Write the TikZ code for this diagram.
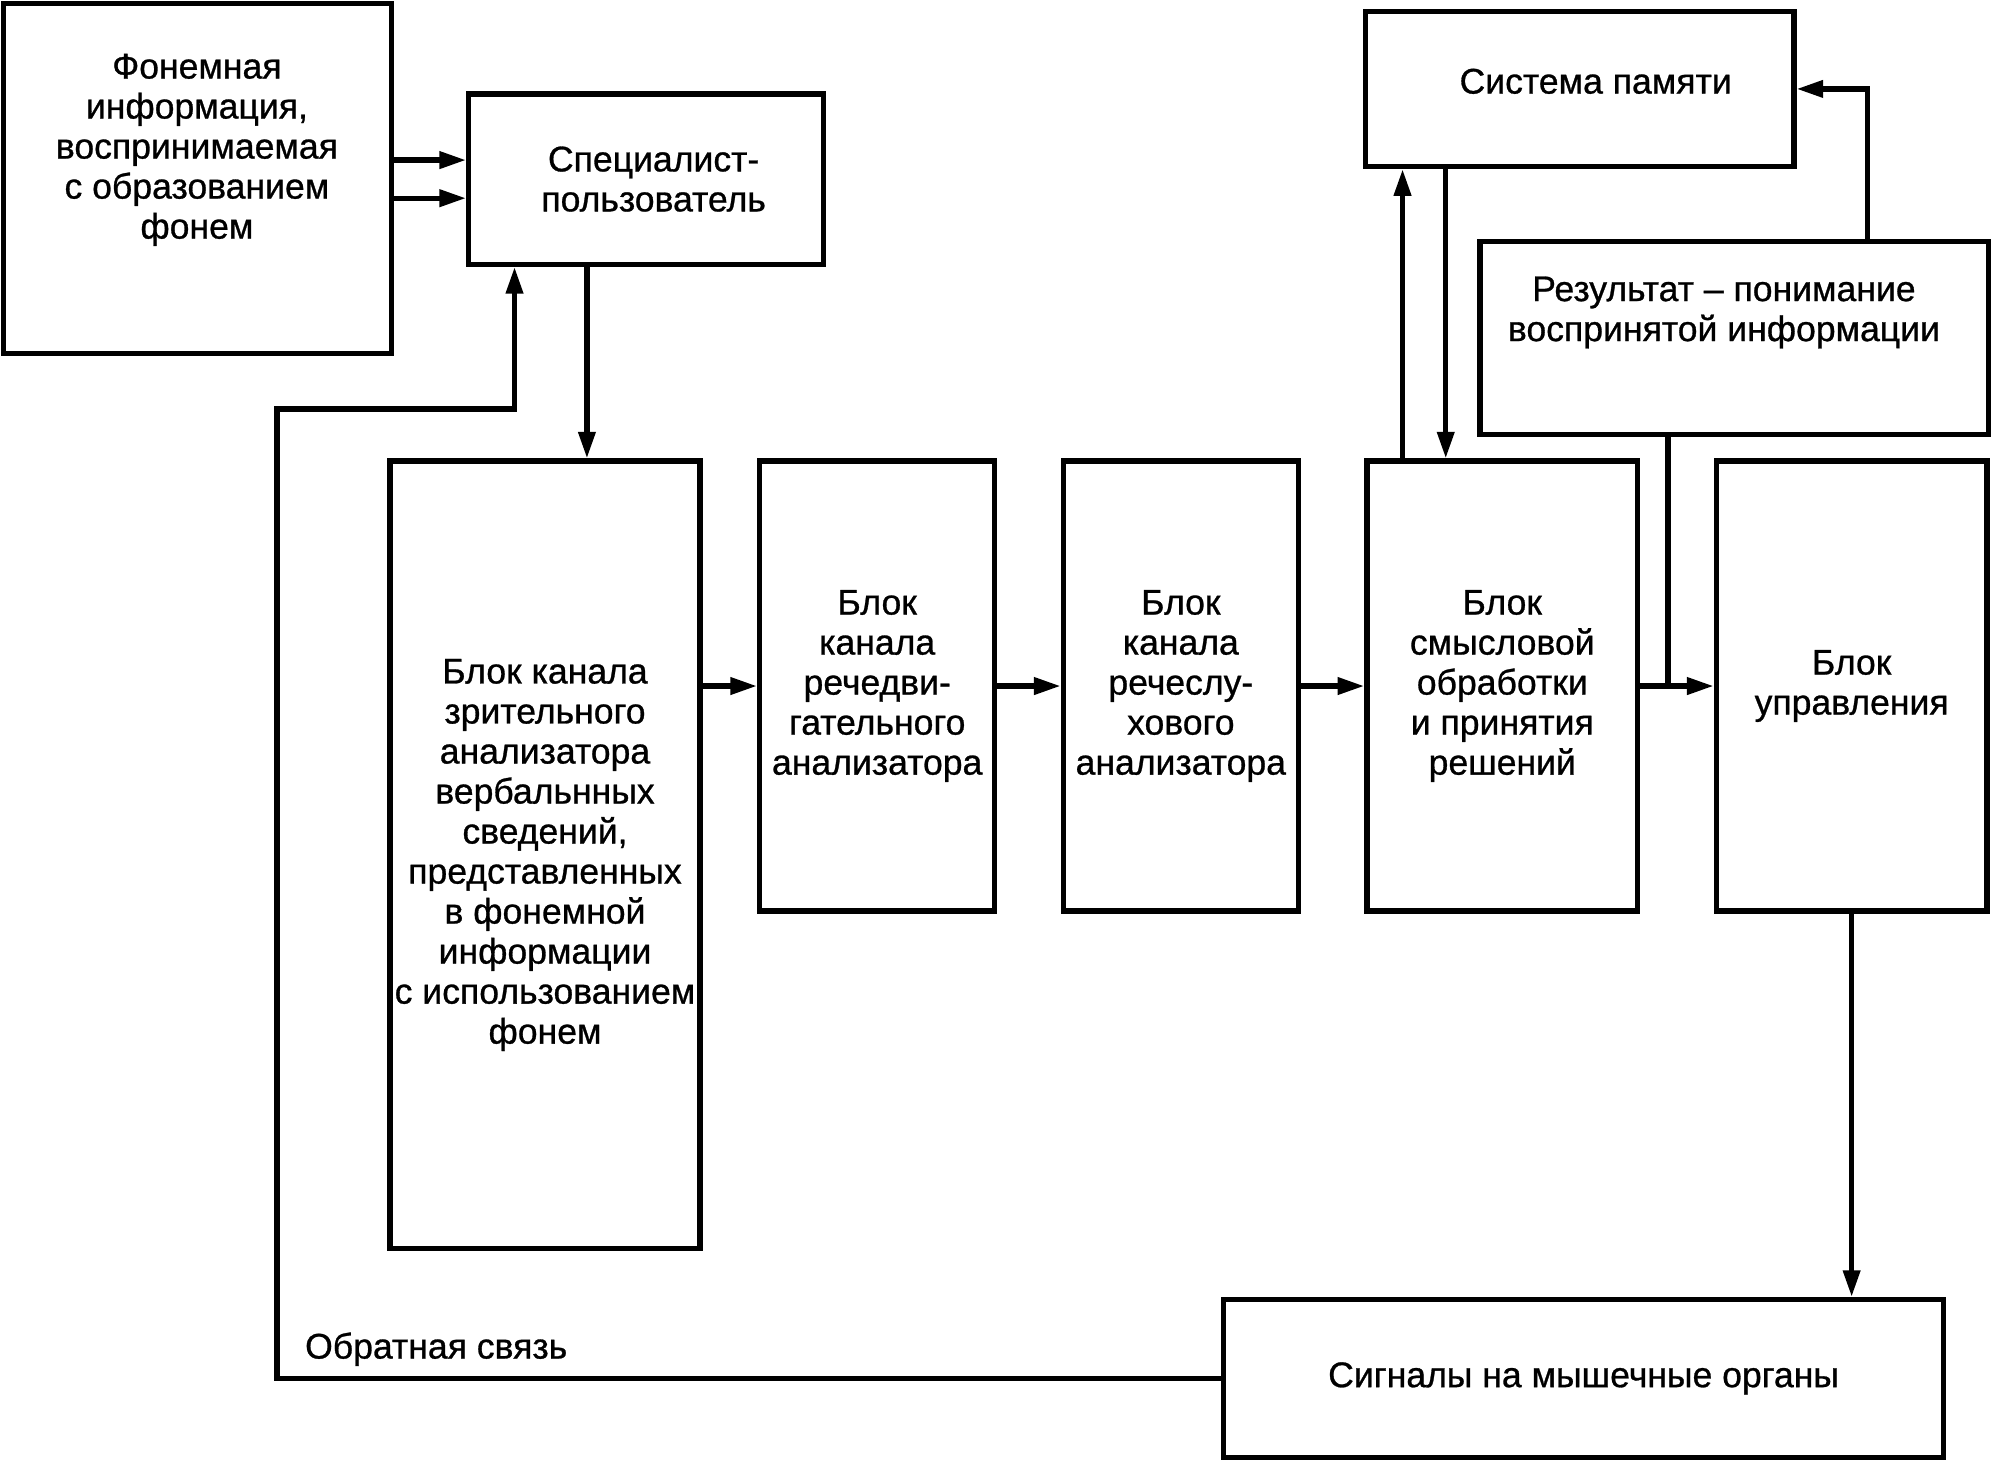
\documentclass[tikz,border=0pt]{standalone}
\usepackage{fontspec}
\setmainfont{Liberation Sans}[FakeBold=0.8]
\usetikzlibrary{arrows.meta,calc}
\begin{document}
\begin{tikzpicture}[x=1pt,y=-1pt,
  box/.style={draw,line width=4.2pt,rectangle,inner sep=0pt,align=center,font=\fontsize{28}{31.5}\selectfont},
  txt/.style={align=center,font=\fontsize{28}{31.5}\selectfont,inner sep=0pt},
  arr/.style={line width=4.2pt,-{Triangle[length=21pt,width=13pt]}},
  ln/.style={line width=4.2pt}]
\useasboundingbox (0,0) rectangle (1568,1151);
% boxes
\node[box,minimum width=305pt,minimum height=275pt] (fon) at (155.5,140.5) {};
\node[txt] (fontxt) at (155,118) {Фонемная\\информация,\\воспринимаемая\\с образованием\\фонем};
\node[box,minimum width=279pt,minimum height=134pt] (spec) at (508.5,141) {\hspace*{12pt}Специалист-\\\hspace*{12pt}пользователь};
\node[box,minimum width=244pt,minimum height=620pt] (zrit) at (429,673) {Блок канала\\зрительного\\анализатора\\вербальнных\\сведений,\\представленных\\в фонемной\\информации\\с использованием\\фонем};
\node[box,minimum width=185pt,minimum height=354pt] (rd) at (690.5,540) {Блок\\канала\\речедви-\\гательного\\анализатора};
\node[box,minimum width=185pt,minimum height=354pt] (rs) at (929.5,540) {Блок\\канала\\речеслу-\\хового\\анализатора};
\node[box,minimum width=213pt,minimum height=354pt] (sm) at (1182.5,540) {Блок\\смысловой\\обработки\\и принятия\\решений};
\node[box,minimum width=213pt,minimum height=354pt] (upr) at (1457.5,540) {Блок\\управления};
\node[box,minimum width=337pt,minimum height=122pt] (pam) at (1243.5,70) {};
\node[txt] (pamtxt) at (1256,64) {Система памяти};
\node[box,minimum width=400pt,minimum height=152pt] (rez) at (1365,266) {};
\node[txt] (reztxt) at (1357,246) {Результат – понимание\\воспринятой информации};
\node[box,minimum width=567pt,minimum height=124pt] (sig) at (1246.5,1085) {Сигналы на мышечные органы};
\node[txt,anchor=west] (fbtxt) at (240,1062) {Обратная связь};
\coordinate (fbA) at (218,322);
% connectors
\draw[arr] ([yshift=15pt]fon.east |- spec.west) -- ([yshift=15pt]spec.west);
\draw[arr] ([yshift=-15pt]fon.east |- spec.west) -- ([yshift=-15pt]spec.west);
\draw[arr] ([xshift=-46.5pt]spec.south) -- ([xshift=-46.5pt]spec.south |- zrit.north);
\draw[arr] (sig.west) -| (fbA) -| ([xshift=-103.5pt]spec.south);
\draw[arr] (zrit.east |- rd.west) -- (rd.west);
\draw[arr] (rd.east) -- (rs.west);
\draw[arr] (rs.east) -- (sm.west);
\draw[arr] (sm.east) -- (upr.west);
\draw[ln] ([xshift=-52pt]rez.south) -- ([xshift=-52pt]rez.south |- upr.west);
\draw[arr] ([xshift=-78.5pt]sm.north) -- ([xshift=-78.5pt]sm.north |- pam.south);
\draw[arr] ([xshift=-44.5pt]sm.north |- pam.south) -- ([xshift=-44.5pt]sm.north);
\draw[arr] ([xshift=105pt]rez.north) |- (pam.east);
\draw[arr] (upr.south) -- (upr.south |- sig.north);
\end{tikzpicture}
\end{document}
